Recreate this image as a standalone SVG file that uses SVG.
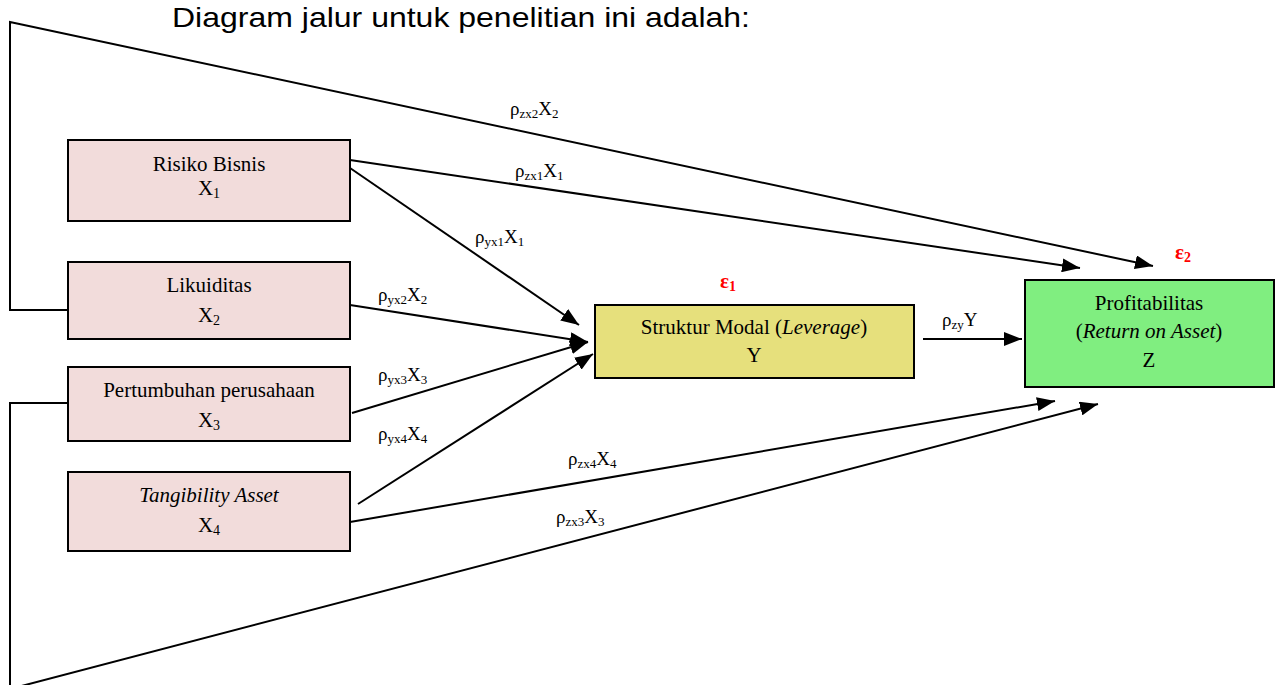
<svg xmlns="http://www.w3.org/2000/svg" width="1280" height="685" viewBox="0 0 1280 685">
<style>
.box{stroke:#000;stroke-width:2}
.x{fill:#F2DCDB}
.y{fill:#E6E07C}
.z{fill:#80EE80}
.t{font-family:"Liberation Serif","Times New Roman",serif;font-size:21px;fill:#000}
.c{text-anchor:middle}
.lbl{font-family:"Liberation Serif","Times New Roman",serif;font-size:19px;fill:#000}
.eps{font-family:"Liberation Serif","Times New Roman",serif;font-size:21px;font-weight:bold;fill:#FF0000}
.edge{fill:none;stroke:#000;stroke-width:2}
</style>
<defs>
<marker id="ah" markerUnits="userSpaceOnUse" markerWidth="20" markerHeight="14" refX="18" refY="7" orient="auto">
<path d="M0,0 L18,7 L0,14 z" fill="#000"/>
</marker>
</defs>
<rect width="1280" height="685" fill="#fff"/>
<text x="172" y="27" font-family="Liberation Sans, Arial, sans-serif" font-size="28" textLength="578" lengthAdjust="spacingAndGlyphs" fill="#000">Diagram jalur untuk penelitian ini adalah:</text>

<g id="connectors">
<path class="edge" d="M68,310 H10 V22 L1153,266" marker-end="url(#ah)"/>
<path class="edge" d="M68,403 H10 V689 L1098,404" marker-end="url(#ah)"/>
<path class="edge" d="M350,160 L1080,268" marker-end="url(#ah)"/>
<path class="edge" d="M350,168 L579,325" marker-end="url(#ah)"/>
<path class="edge" d="M350,305 L588,342" marker-end="url(#ah)"/>
<path class="edge" d="M352,413 L588,342" marker-end="url(#ah)"/>
<path class="edge" d="M358,504 L593,354" marker-end="url(#ah)"/>
<path class="edge" d="M350,522 L1055,401" marker-end="url(#ah)"/>
<path class="edge" d="M923,339 L1022,339" marker-end="url(#ah)"/>
</g>

<g id="labels">
<text class="lbl" x="510" y="115">ρ<tspan font-size="13" dy="3">zx2</tspan><tspan dy="-3">X</tspan><tspan font-size="13" dy="3">2</tspan></text>
<text class="lbl" x="515" y="177">ρ<tspan font-size="13" dy="3">zx1</tspan><tspan dy="-3">X</tspan><tspan font-size="13" dy="3">1</tspan></text>
<text class="lbl" x="475" y="243">ρ<tspan font-size="13" dy="3">yx1</tspan><tspan dy="-3">X</tspan><tspan font-size="13" dy="3">1</tspan></text>
<text class="lbl" x="378" y="301">ρ<tspan font-size="13" dy="3">yx2</tspan><tspan dy="-3">X</tspan><tspan font-size="13" dy="3">2</tspan></text>
<text class="lbl" x="378" y="381">ρ<tspan font-size="13" dy="3">yx3</tspan><tspan dy="-3">X</tspan><tspan font-size="13" dy="3">3</tspan></text>
<text class="lbl" x="378" y="440">ρ<tspan font-size="13" dy="3">yx4</tspan><tspan dy="-3">X</tspan><tspan font-size="13" dy="3">4</tspan></text>
<text class="lbl" x="568" y="465">ρ<tspan font-size="13" dy="3">zx4</tspan><tspan dy="-3">X</tspan><tspan font-size="13" dy="3">4</tspan></text>
<text class="lbl" x="556" y="523">ρ<tspan font-size="13" dy="3">zx3</tspan><tspan dy="-3">X</tspan><tspan font-size="13" dy="3">3</tspan></text>
<text class="lbl" x="942" y="326">ρ<tspan font-size="13" dy="3">zy</tspan><tspan dy="-3">Y</tspan></text>
<text class="eps" x="720" y="288">ε<tspan font-size="14" dy="3">1</tspan></text>
<text class="eps" x="1175" y="259">ε<tspan font-size="14" dy="3">2</tspan></text>
</g>

<g id="node-x1">
<rect class="box x" x="68" y="140" width="282" height="81"/>
<text class="t c" x="209" y="171">Risiko Bisnis</text>
<text class="t c" x="209" y="195">X<tspan font-size="14" dy="3">1</tspan></text>
</g>
<g id="node-x2">
<rect class="box x" x="68" y="262" width="282" height="77"/>
<text class="t c" x="209" y="292">Likuiditas</text>
<text class="t c" x="209" y="322">X<tspan font-size="14" dy="3">2</tspan></text>
</g>
<g id="node-x3">
<rect class="box x" x="68" y="367" width="282" height="74"/>
<text class="t c" x="209" y="397">Pertumbuhan perusahaan</text>
<text class="t c" x="209" y="427">X<tspan font-size="14" dy="3">3</tspan></text>
</g>
<g id="node-x4">
<rect class="box x" x="68" y="472" width="282" height="79"/>
<text class="t c" x="209" y="502" font-style="italic">Tangibility Asset</text>
<text class="t c" x="209" y="532">X<tspan font-size="14" dy="3">4</tspan></text>
</g>
<g id="node-y">
<rect class="box y" x="595" y="305" width="319" height="73"/>
<text class="t c" x="754" y="334">Struktur Modal (<tspan font-style="italic">Leverage</tspan>)</text>
<text class="t c" x="754" y="362">Y</text>
</g>
<g id="node-z">
<rect class="box z" x="1025" y="280" width="249" height="107"/>
<text class="t c" x="1149" y="310">Profitabilitas</text>
<text class="t c" x="1149" y="338">(<tspan font-style="italic">Return on Asset</tspan>)</text>
<text class="t c" x="1149" y="367">Z</text>
</g>
</svg>
